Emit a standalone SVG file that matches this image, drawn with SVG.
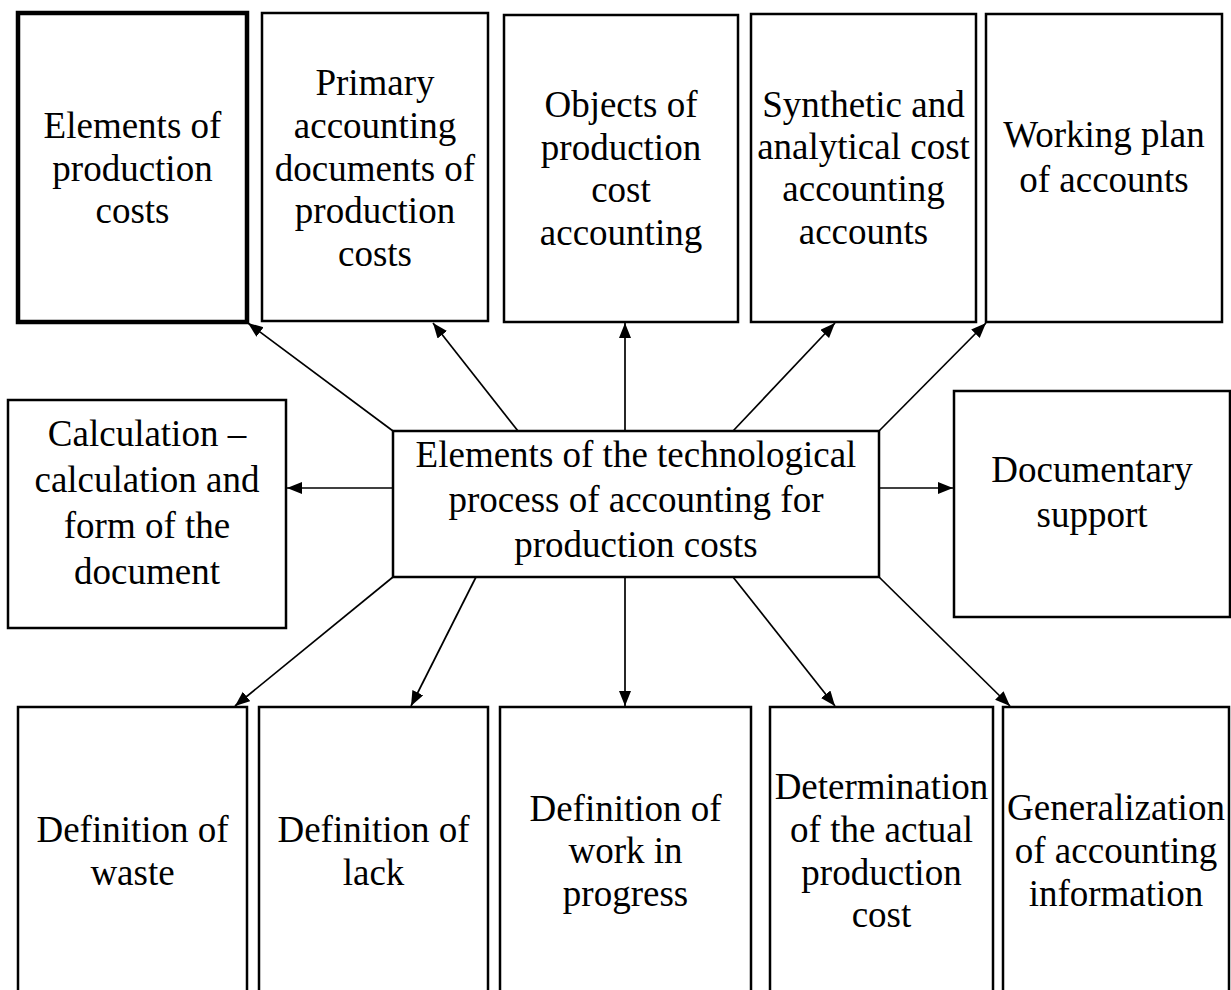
<svg xmlns="http://www.w3.org/2000/svg" width="1231" height="990" viewBox="0 0 1231 990">
  <style>
    .box { fill: #ffffff; stroke: #000000; stroke-width: 2.5; }
    .box-thick { fill: #ffffff; stroke: #000000; stroke-width: 4.5; }
    .label { font-family: 'Liberation Serif', 'Times New Roman', serif; font-size: 37px; fill: #000000; text-anchor: middle; }
    .link { stroke: #000000; stroke-width: 1.7; fill: none; marker-end: url(#arrow); }
  </style>
  <defs>
    <marker id="arrow" markerUnits="userSpaceOnUse" markerWidth="16" markerHeight="13" refX="15" refY="6" orient="auto">
      <path d="M0,0 L15,6 L0,12 z" fill="#000000"/>
    </marker>
  </defs>
  <rect width="1231" height="990" fill="#ffffff"/>

  <!-- top row -->
  <g id="elements-of-costs">
    <rect class="box-thick" x="18" y="13" width="229" height="309"/>
    <text class="label"><tspan x="132.5" y="138">Elements of</tspan><tspan x="132.5" y="180.5">production</tspan><tspan x="132.5" y="223">costs</tspan></text>
  </g>
  <g id="primary-documents">
    <rect class="box" x="262" y="13" width="226" height="308"/>
    <text class="label"><tspan x="375" y="95">Primary</tspan><tspan x="375" y="138">accounting</tspan><tspan x="375" y="180.5">documents of</tspan><tspan x="375" y="223">production</tspan><tspan x="375" y="266">costs</tspan></text>
  </g>
  <g id="cost-objects">
    <rect class="box" x="504" y="15" width="234" height="307"/>
    <text class="label"><tspan x="621" y="117">Objects of</tspan><tspan x="621" y="160">production</tspan><tspan x="621" y="202">cost</tspan><tspan x="621" y="245">accounting</tspan></text>
  </g>
  <g id="cost-accounts">
    <rect class="box" x="751" y="14" width="225" height="308"/>
    <text class="label"><tspan x="863.5" y="117">Synthetic and</tspan><tspan x="863.5" y="159">analytical cost</tspan><tspan x="863.5" y="201">accounting</tspan><tspan x="863.5" y="244">accounts</tspan></text>
  </g>
  <g id="plan-of-accounts">
    <rect class="box" x="986" y="14" width="236" height="308"/>
    <text class="label"><tspan x="1104" y="147">Working plan</tspan><tspan x="1104" y="192">of accounts</tspan></text>
  </g>

  <!-- middle row -->
  <g id="calculation">
    <rect class="box" x="8" y="400" width="278" height="228"/>
    <text class="label"><tspan x="147" y="446">Calculation –</tspan><tspan x="147" y="492">calculation and</tspan><tspan x="147" y="538">form of the</tspan><tspan x="147" y="584">document</tspan></text>
  </g>
  <g id="process">
    <rect class="box" x="393" y="431" width="486" height="146"/>
    <text class="label"><tspan x="636" y="467">Elements of the technological</tspan><tspan x="636" y="512">process of accounting for</tspan><tspan x="636" y="557">production costs</tspan></text>
  </g>
  <g id="documentary-support">
    <rect class="box" x="954" y="391" width="276" height="226"/>
    <text class="label"><tspan x="1092" y="482">Documentary</tspan><tspan x="1092" y="527">support</tspan></text>
  </g>

  <!-- bottom row -->
  <g id="waste">
    <rect class="box" x="18" y="707" width="229" height="300"/>
    <text class="label"><tspan x="132.5" y="842">Definition of</tspan><tspan x="132.5" y="885">waste</tspan></text>
  </g>
  <g id="lack">
    <rect class="box" x="259" y="707" width="229" height="300"/>
    <text class="label"><tspan x="373.5" y="842">Definition of</tspan><tspan x="373.5" y="885">lack</tspan></text>
  </g>
  <g id="work-in-progress">
    <rect class="box" x="500" y="707" width="251" height="300"/>
    <text class="label"><tspan x="625.5" y="821">Definition of</tspan><tspan x="625.5" y="863">work in</tspan><tspan x="625.5" y="906">progress</tspan></text>
  </g>
  <g id="actual-cost">
    <rect class="box" x="770" y="707" width="223" height="300"/>
    <text class="label"><tspan x="881.5" y="799">Determination</tspan><tspan x="881.5" y="842">of the actual</tspan><tspan x="881.5" y="885">production</tspan><tspan x="881.5" y="927">cost</tspan></text>
  </g>
  <g id="generalization">
    <rect class="box" x="1003" y="707" width="226" height="300"/>
    <text class="label"><tspan x="1116" y="820">Generalization</tspan><tspan x="1116" y="863">of accounting</tspan><tspan x="1116" y="906">information</tspan></text>
  </g>

  <!-- connectors from the central box -->
  <g id="connectors">
    <line class="link" x1="393" y1="431" x2="248" y2="323"/>
    <line class="link" x1="518" y1="431" x2="433" y2="323"/>
    <line class="link" x1="625" y1="431" x2="625" y2="323"/>
    <line class="link" x1="733" y1="431" x2="835" y2="323"/>
    <line class="link" x1="879" y1="431" x2="986" y2="323"/>
    <line class="link" x1="393" y1="488" x2="287" y2="488"/>
    <line class="link" x1="879" y1="488" x2="953" y2="488"/>
    <line class="link" x1="393" y1="577" x2="235" y2="706"/>
    <line class="link" x1="476" y1="577" x2="411" y2="706"/>
    <line class="link" x1="625" y1="577" x2="625" y2="706"/>
    <line class="link" x1="733" y1="577" x2="835" y2="706"/>
    <line class="link" x1="879" y1="577" x2="1010" y2="706"/>
  </g>
</svg>
